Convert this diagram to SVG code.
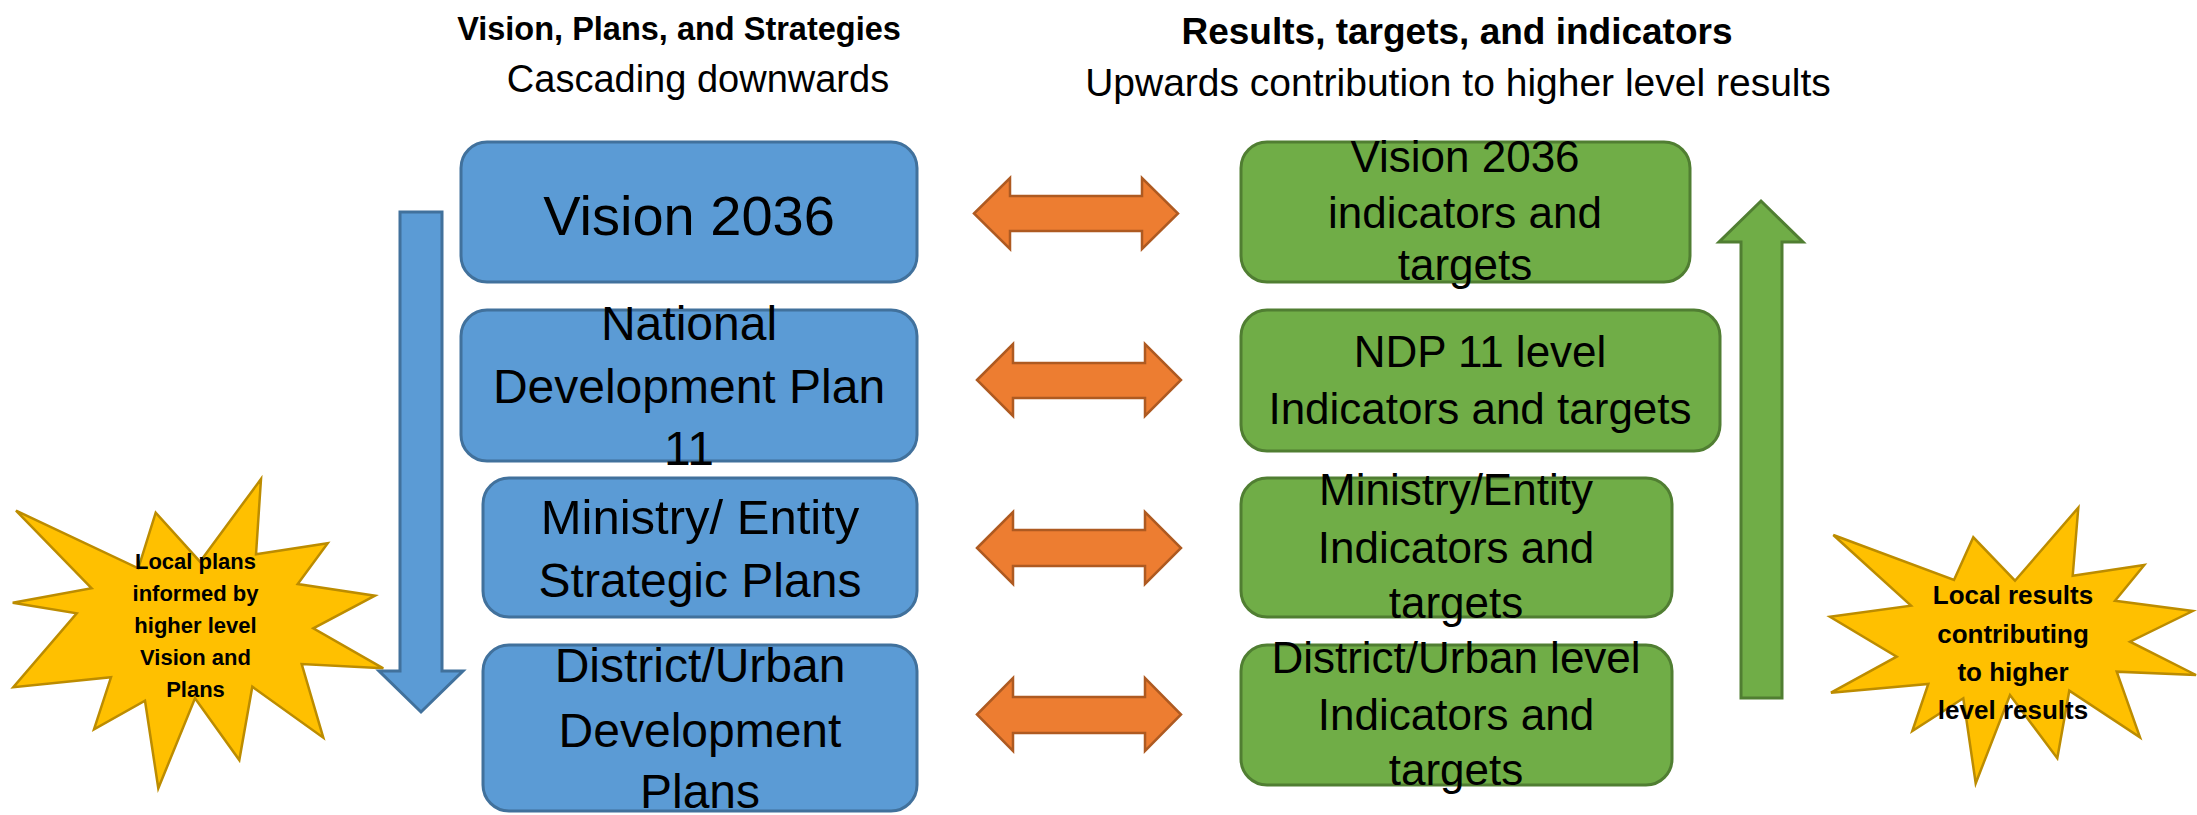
<svg xmlns="http://www.w3.org/2000/svg" width="2197" height="815" viewBox="0 0 2197 815">
  <defs>
    <linearGradient id="rule" x1="0" y1="0" x2="1" y2="0">
      <stop offset="0" stop-color="#4A86C5"/>
      <stop offset="0.35" stop-color="#6FA6DA"/>
      <stop offset="0.5" stop-color="#A9CBEA"/>
      <stop offset="0.7" stop-color="#7FB0DF"/>
      <stop offset="1" stop-color="#5B9BD5"/>
    </linearGradient>
    <style>
      text { font-family: "Liberation Sans", Arial, sans-serif; fill: #000; text-anchor: middle; }
      .head { font-weight: bold; }
      .plan { fill: #5B9BD5; stroke: #41719C; stroke-width: 3; }
      .result { fill: #70AD47; stroke: #507E32; stroke-width: 3; }
      .link { fill: #ED7D31; stroke: #AE5A21; stroke-width: 2.5; stroke-linejoin: miter; }
      .burst { fill: #FFC000; stroke: #BC8C00; stroke-width: 2.5; stroke-linejoin: miter; }
      .star-text { font-weight: bold; }
      .down { fill: #5B9BD5; stroke: #41719C; stroke-width: 3; }
      .up { fill: #70AD47; stroke: #507E32; stroke-width: 3; }
    </style>
  </defs>

  <rect width="2197" height="815" fill="#FFFFFF"/>

  <!-- Column headings -->
  <g id="headings">
    <text class="head" x="679" y="40" font-size="32.5">Vision, Plans, and Strategies</text>
    <text x="698" y="92" font-size="38">Cascading downwards</text>
    <text class="head" x="1457" y="44" font-size="37">Results, targets, and indicators</text>
    <text x="1458" y="96" font-size="39">Upwards contribution to higher level results</text>
    <line x1="340" y1="97" x2="1829" y2="97" stroke="url(#rule)" stroke-width="2"/>
  </g>

  <!-- Plans column -->
  <g id="vision-2036">
    <rect class="plan" x="461" y="142" width="456" height="140" rx="26"/>
    <text x="689" y="235" font-size="56">Vision 2036</text>
  </g>
  <g id="ndp-11">
    <rect class="plan" x="461" y="310" width="456" height="151" rx="26"/>
    <text x="689" y="340" font-size="48">National</text>
    <text x="689" y="403" font-size="48">Development Plan</text>
    <text x="689" y="465" font-size="48">11</text>
  </g>
  <g id="ministry-plans">
    <rect class="plan" x="483" y="478" width="434" height="139" rx="26"/>
    <text x="700" y="534" font-size="49">Ministry/ Entity</text>
    <text x="700" y="597" font-size="48">Strategic Plans</text>
  </g>
  <g id="district-plans">
    <rect class="plan" x="483" y="645" width="434" height="166" rx="26"/>
    <text x="700" y="682" font-size="48">District/Urban</text>
    <text x="700" y="747" font-size="48">Development</text>
    <text x="700" y="808" font-size="48">Plans</text>
  </g>

  <!-- Results column -->
  <g id="vision-indicators">
    <rect class="result" x="1241" y="142" width="449" height="140" rx="26"/>
    <text x="1465" y="172" font-size="44">Vision 2036</text>
    <text x="1465" y="228" font-size="44">indicators and</text>
    <text x="1465" y="280" font-size="44">targets</text>
  </g>
  <g id="ndp-indicators">
    <rect class="result" x="1241" y="310" width="479" height="141" rx="26"/>
    <text x="1480" y="367" font-size="44">NDP 11 level</text>
    <text x="1480" y="424" font-size="44">Indicators and targets</text>
  </g>
  <g id="ministry-indicators">
    <rect class="result" x="1241" y="478" width="431" height="139" rx="26"/>
    <text x="1456" y="505" font-size="44">Ministry/Entity</text>
    <text x="1456" y="563" font-size="44">Indicators and</text>
    <text x="1456" y="618" font-size="44">targets</text>
  </g>
  <g id="district-indicators">
    <rect class="result" x="1241" y="645" width="431" height="140" rx="26"/>
    <text x="1456" y="673" font-size="44">District/Urban level</text>
    <text x="1456" y="730" font-size="44">Indicators and</text>
    <text x="1456" y="785" font-size="44">targets</text>
  </g>

  <!-- Callout bursts -->
  <g id="local-plans-note">
    <polygon class="burst" points="91.7,588.3 16,510.7 138.3,568.3 155.7,512.7 200,561.7 261,479 256,554.3 327.7,543.3 297.7,584 375,595.7 313.3,628.3 383.3,668.3 301.7,664 323.3,737.7 252.3,686.7 239.3,760 195,698.3 158.3,788.3 145,700.7 94,729.3 111,677.3 13.3,687.3 76.7,613.3 12.7,602.7"/>
    <text class="star-text" x="195.5" y="569" font-size="22">Local plans</text>
    <text class="star-text" x="195.5" y="601" font-size="22">informed by</text>
    <text class="star-text" x="195.5" y="633" font-size="22">higher level</text>
    <text class="star-text" x="195.5" y="665" font-size="22">Vision and</text>
    <text class="star-text" x="195.5" y="697" font-size="22">Plans</text>
  </g>
  <g id="local-results-note">
    <polygon class="burst" points="1830,616.7 1911,605.7 1833.3,535 1954,580 1973.3,537.3 2015,580.7 2078.3,507.7 2072.7,575.7 2144.3,565 2115,600.7 2192.7,611 2130,641.7 2196,675 2116.7,671.7 2140,737.3 2069.3,690.7 2057.3,758.3 2010,695 1975.7,783.3 1963.3,698.3 1912.3,731 1928.3,684 1831,692.7 1896.7,656.7"/>
    <text class="star-text" x="2013" y="604" font-size="26">Local results</text>
    <text class="star-text" x="2013" y="643" font-size="26">contributing</text>
    <text class="star-text" x="2013" y="681" font-size="26">to higher</text>
    <text class="star-text" x="2013" y="719" font-size="26">level results</text>
  </g>

  <!-- Connectors: two-way links between levels, and the cascade / contribution arrows -->
  <g id="connectors">
    <polygon class="link" points="974,213.5 1010,178 1010,196 1142,196 1142,178 1178,213.5 1142,249 1142,231 1010,231 1010,249"/>
    <polygon class="link" points="977,380 1013,344 1013,363 1145,363 1145,344 1181,380 1145,416 1145,398 1013,398 1013,416"/>
    <polygon class="link" points="977,548 1013,512 1013,530 1145,530 1145,512 1181,548 1145,584 1145,566 1013,566 1013,584"/>
    <polygon class="link" points="977,714.5 1013,678 1013,697 1145,697 1145,678 1181,714.5 1145,751 1145,733 1013,733 1013,751"/>
    <polygon class="down" points="400,212 442,212 442,671 463,671 421,712 379,671 400,671"/>
    <polygon class="up" points="1761,201 1803,242 1782,242 1782,698 1741,698 1741,242 1719,242"/>
  </g>
</svg>
